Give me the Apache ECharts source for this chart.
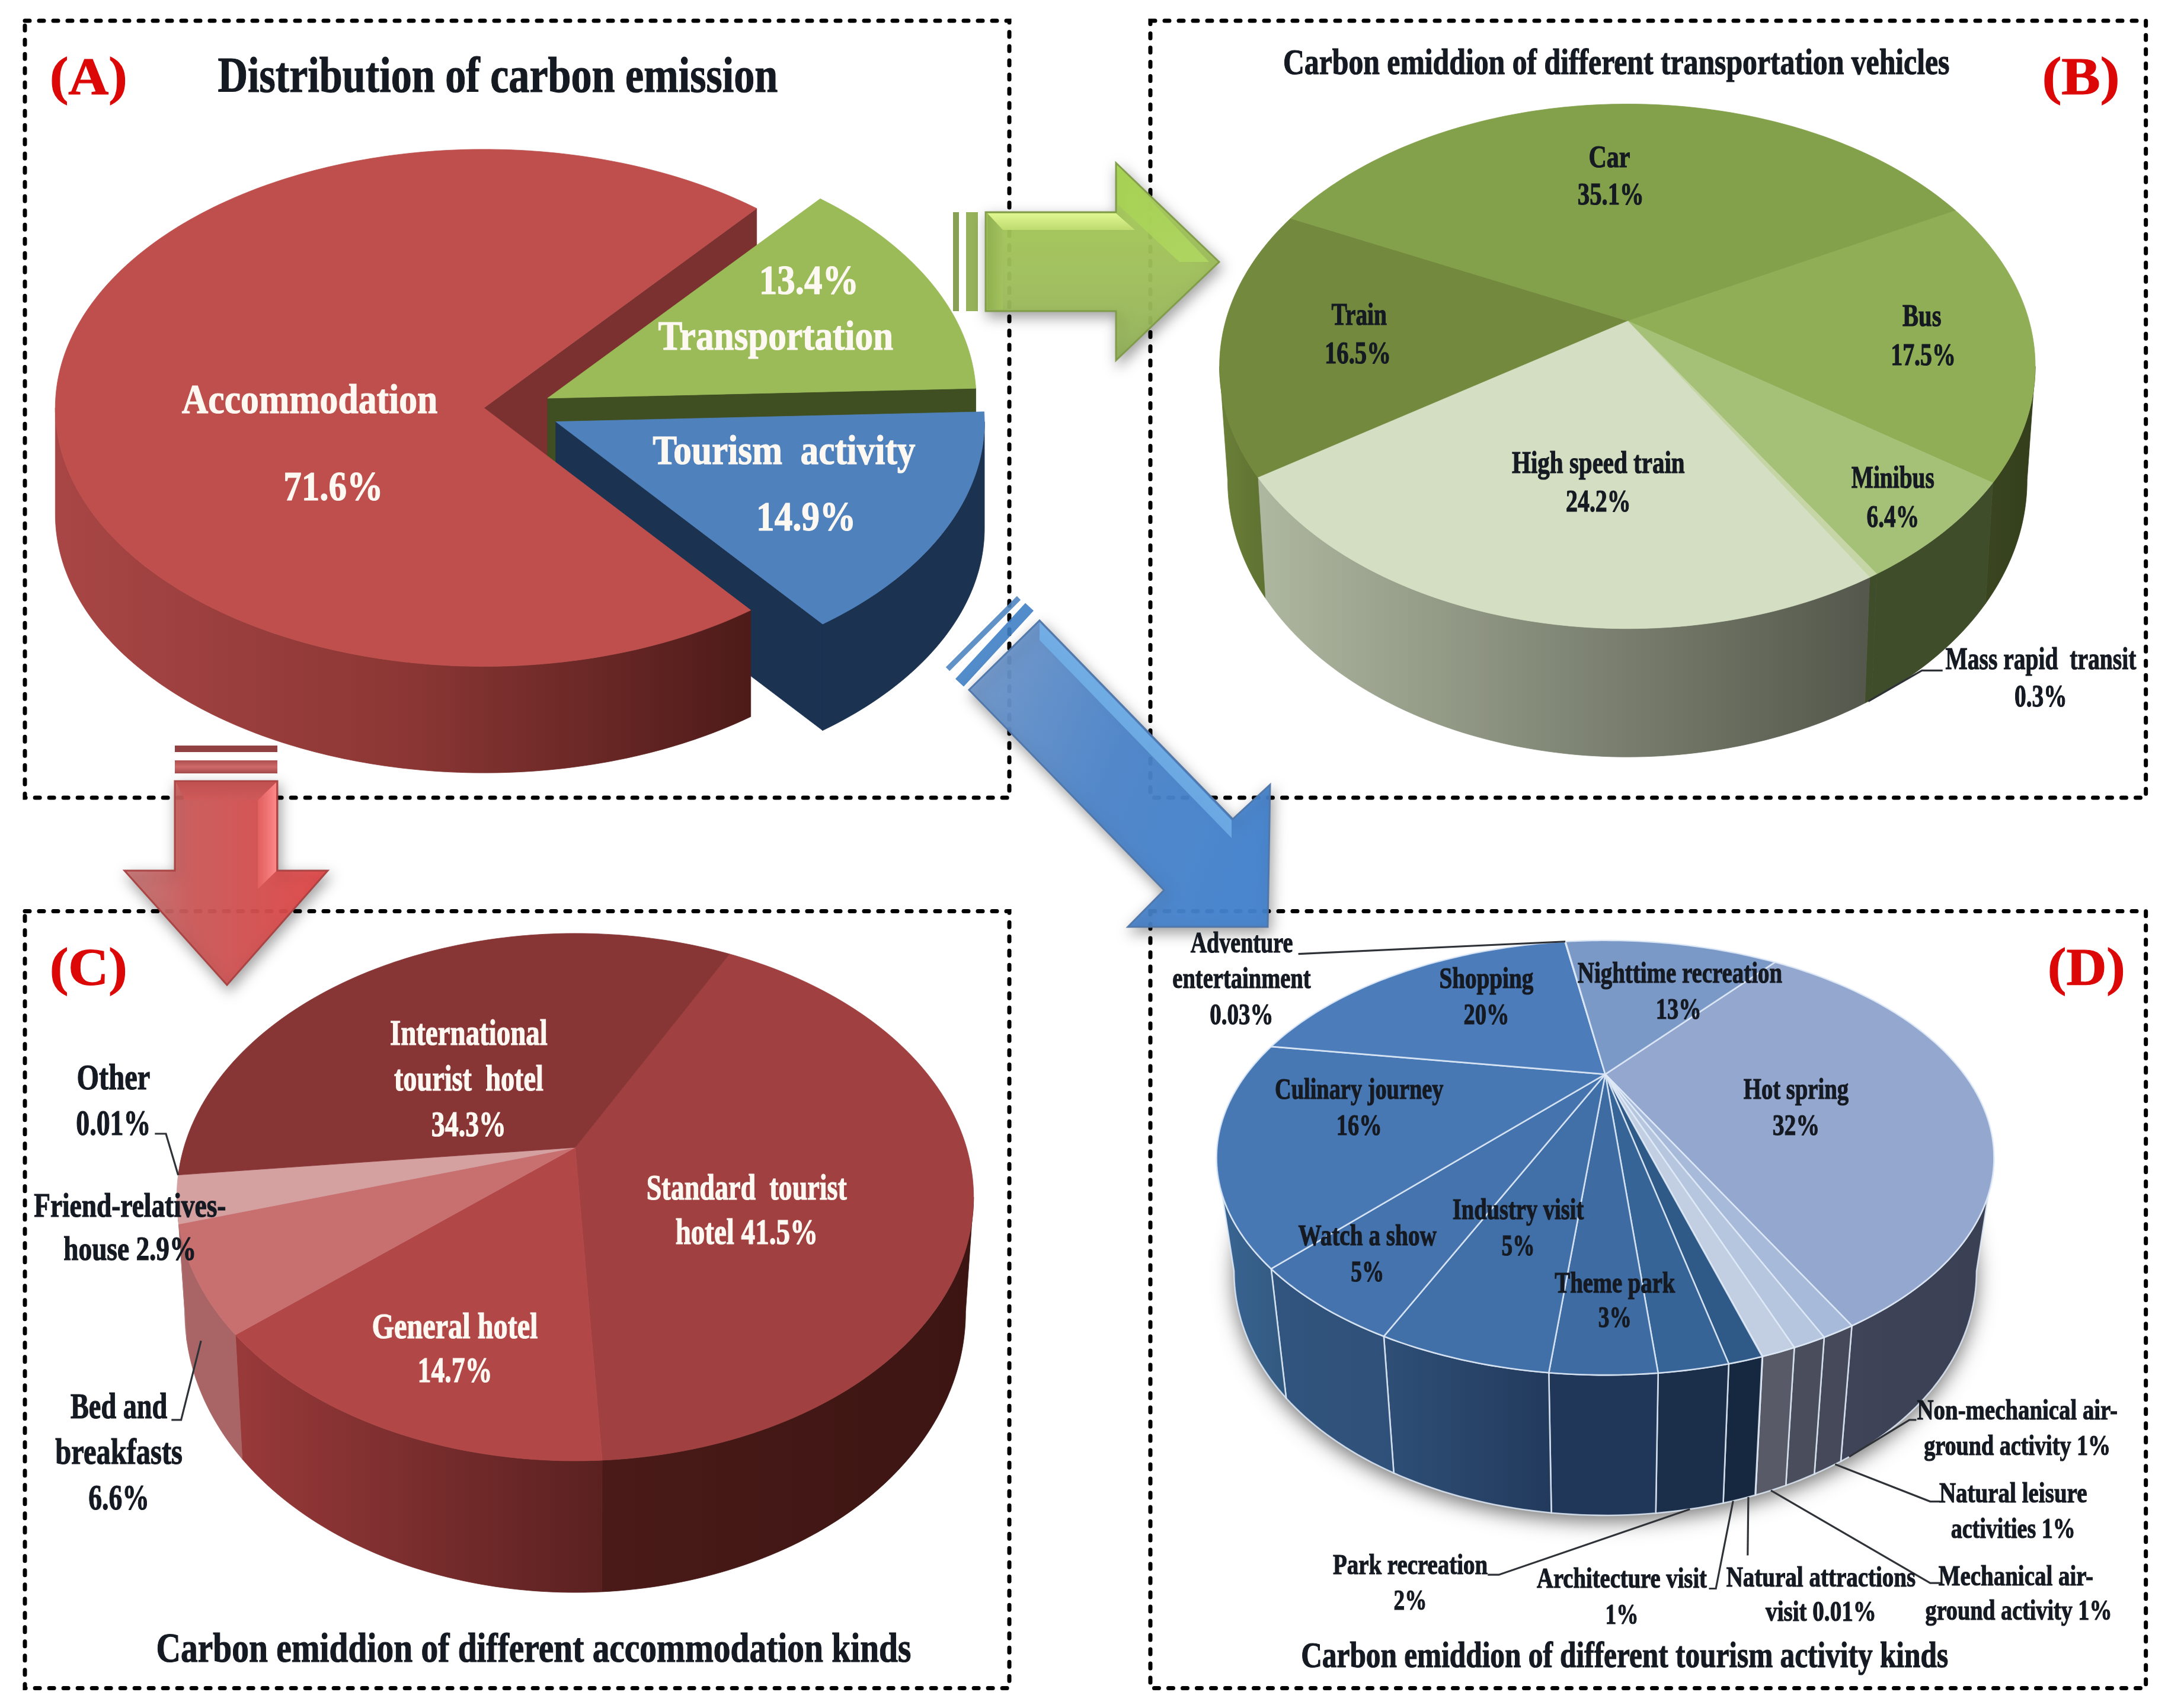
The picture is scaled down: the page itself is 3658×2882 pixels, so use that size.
<!DOCTYPE html>
<html><head><meta charset="utf-8">
<style>html,body{margin:0;padding:0;background:#fff}#c{width:3658px;height:2882px}</style>
<script src="https://cdn.jsdelivr.net/npm/echarts@6/dist/echarts.min.js"></script>
</head><body><div id="c"></div>
<script>
// ---------- data ----------
const categoriesA = ['Accommodation','Transportation','Tourism activity'];
const valuesA = [71.6,13.4,14.9];
const categoriesB = ['Bus','Minibus','Mass rapid transit','High speed train','Train','Car'];
const valuesB = [17.5,6.4,0.3,24.2,16.5,35.1];
const categoriesC = ['Standard tourist hotel','General hotel','Bed and breakfasts','Friend-relatives-house','Other','International tourist hotel'];
const valuesC = [41.5,14.7,6.6,2.9,0.01,34.3];
const categoriesD = ['Hot spring','Non-mechanical air-ground activity','Natural leisure activities','Mechanical air-ground activity','Natural attractions visit','Architecture visit','Park recreation','Theme park','Industry visit','Watch a show','Culinary journey','Shopping','Adventure entertainment','Nighttime recreation'];
const valuesD = [32,1,1,1,0.01,1,2,3,5,5,16,20,0.03,13];

// ---------- layout (units of the 1568-wide view, scaled by k) ----------
const k = 3658/1568;
const FONT = '"Liberation Serif"';
const DARK = '#151a22', WHITE = '#fdf8f2', RED = '#dc0808';

const pieA = {values:valuesA, names:categoriesA, cx:350, ay:295, R:310, Ry:187, p:0, d:77, q:0, s:1, start:51.5,
  offsets:[[0,0],[46,-7],[52,10]],
  tops:['#BE4F4D','#9BBB59','#4F81BD'],
  walls:[['#A84645','#8C3735','#4D1B19'],['#3F4F22'],['#1B3250']],
  cuts:['#7A3130','#3F4F22','#1B3250'],
  // [slice, face]: 0 top, 1 rim wall, 2 cut wall at slice end
  faces:[[0,2],[1,2],[1,0],[2,2],[2,1],[0,1],[0,0],[2,0]]};
const pieB = {values:valuesB, names:categoriesB, cx:1177, ay:232, R:290.5, Ry:184, p:0.1737, d:80, q:0.16, s:0.98, start:-28,
  tops:['#8FAE55','#A5C077','#C5D5A5','#D3DEC2','#72893E','#83A04A'],
  walls:[['#3A4620','#333D1B'],['#404D2B'],['#404D2B'],['#AEB7A0','#54574B'],['#6B8038','#5F7232'],['#5F7232']]};
const pieC = {values:valuesC, names:categoriesC, cx:416, ay:830, R:283, Ry:184, p:0.188, d:80, q:0.19, s:0.98, start:-62.6,
  tops:['#A04040','#B24747','#C87070','#D4A0A0','#D4A0A0','#883535'],
  walls:[['#4A1A18','#3C1512'],['#99393A','#5A2120'],['#A96565'],['#B07878'],['#B07878'],['#7A2E2E']]};
const pieD = {values:valuesD, names:categoriesD, cx:1161, ay:777, R:259.6, Ry:134, p:0.384, d:70, q:0.45, s:0.955, start:-52,
  tops:['#93A7CF','#A8BADA','#B6C6DF','#C2CFE3','#C2CFE3','#2F5A88','#366496','#3E6BA1','#4170A8','#4473AD','#4878B3','#4C7CB9','#4C7CB9','#7B99C7'],
  walls:[['#3F4459','#3A4054'],['#464959'],['#4A4D5B'],['#585B67'],['#585B67'],['#16283F'],['#1B2F4A'],['#20375A'],['#2F4F77','#223A5C'],['#31557F','#2F5078'],['#3A6594','#32597F'],['#3A6594'],['#3A6594'],['#5A7AA8']],
  stroke:'rgba(225,235,248,0.85)', base:'#1B2F4A'};
[pieB,pieC,pieD].forEach(pie=>{
  const walls=pie.values.map((_,i)=>[i,1]), tops=pie.values.map((_,i)=>[i,0]);
  pie.faces=(pie.base?[[0,4]]:[]).concat(walls,tops);
});

const boxes = [[18,15,712,562],[832,15,720,562],[18,659,712,562],[832,659,720,562]];

// text rows: string, centre x, centre y, target width, font size, colour
const textRows = [
 ['(A)',64,58,56,38,RED],['(B)',1505,58,56,38,RED],['(C)',64,702,56,38,RED],['(D)',1509,702,56,38,RED],
 ['Distribution of carbon emission',360,57,405,36,DARK],
 ['Carbon emiddion of different transportation vehicles',1169,47,482,26,DARK],
 ['Carbon emiddion of different accommodation kinds',386,1194,546,30,DARK],
 ['Carbon emiddion of different tourism activity kinds',1175,1199,468,26,DARK],
 ['13.4%',585,205,72,30,WHITE],['Transportation',561,245,170,30,WHITE],
 ['Accommodation',224,291,185,30,WHITE],['71.6%',241,354,72,30,WHITE],
 ['Tourism  activity',567,328,190,30,WHITE],['14.9%',583,376,72,30,WHITE],
 ['Car',1164,115,30,23,DARK],['35.1%',1165,142,48,23,DARK],
 ['Train',983,229,40,23,DARK],['16.5%',982,257,48,23,DARK],
 ['Bus',1390,230,28,23,DARK],['17.5%',1391,258,47,23,DARK],
 ['High speed train',1156,336,125,23,DARK],['24.2%',1156,364,47,23,DARK],
 ['Minibus',1369,347,60,23,DARK],['6.4%',1369,375,38,23,DARK],
 ['Mass rapid  transit',1476,478,138,23,DARK],['0.3%',1476,505,38,23,DARK],
 ['International',339,749,114,26,WHITE],['tourist  hotel',339,782,108,26,WHITE],['34.3%',339,815,54,26,WHITE],
 ['Standard  tourist',540,861,145,26,WHITE],['hotel 41.5%',540,893,103,26,WHITE],
 ['General hotel',329,961,120,26,WHITE],['14.7%',329,993,54,26,WHITE],
 ['Other',82,781,53,26,DARK],['0.01%',82,814,54,26,DARK],
 ['Friend-relatives-',94,874,139,24,DARK],['house 2.9%',94,905,96,24,DARK],
 ['Bed and',86,1019,70,26,DARK],['breakfasts',86,1052,92,26,DARK],['6.6%',86,1085,44,26,DARK],
 ['Adventure',898,683,74,22,DARK],['entertainment',898,709,100,22,DARK],['0.03%',898,735,46,22,DARK],
 ['Shopping',1075,709,68,22,DARK],['20%',1075,735,33,22,DARK],
 ['Nighttime recreation',1215,705,148,22,DARK],['13%',1214,731,33,22,DARK],
 ['Hot spring',1299,789,76,22,DARK],['32%',1299,815,34,22,DARK],
 ['Culinary journey',983,789,122,22,DARK],['16%',983,815,33,22,DARK],
 ['Watch a show',989,895,100,22,DARK],['5%',989,921,24,22,DARK],
 ['Industry visit',1098,876,95,22,DARK],['5%',1098,902,24,22,DARK],
 ['Theme park',1168,929,87,22,DARK],['3%',1168,954,24,22,DARK],
 ['Non-mechanical air-',1459,1021,145,21,DARK],['ground activity 1%',1459,1047,135,21,DARK],
 ['Natural leisure',1456,1081,107,21,DARK],['activities 1%',1456,1107,90,21,DARK],
 ['Mechanical air-',1458,1141,112,21,DARK],['ground activity 1%',1460,1166,135,21,DARK],
 ['Natural attractions',1317,1142,137,21,DARK],['visit 0.01%',1317,1167,80,21,DARK],
 ['Architecture visit',1173,1143,123,21,DARK],['1%',1173,1169,24,21,DARK],
 ['Park recreation',1020,1133,112,21,DARK],['2%',1020,1159,24,21,DARK]
];

// leaders: pie, slice index, rim ('top'|'bottom'|'mid'), elbow points, angle nudge
const leaders = [
 [pieB,2,'bottom',[[1390,485],[1405,485]],0],
 [pieC,4,'top',[[120,820],[112,820]],0],
 [pieC,2,'mid',[[131,1027],[124,1027]],0],
 [pieD,12,'top',[[939,690]],0],
 [pieD,1,'bottom',[[1381,1027],[1386,1027]],-3],
 [pieD,2,'bottom',[[1396,1086],[1403,1086]],-4.6],
 [pieD,3,'bottom',[[1396,1145],[1404,1145]],0],
 [pieD,4,'bottom',[[1264,1125]],0.8],
 [pieD,5,'bottom',[[1241,1149],[1236,1149]],0.7],
 [pieD,6,'bottom',[[1084,1139],[1076,1139]],0]
];

// ---------- geometry ----------
function angles(pie){
  const total=pie.values.reduce((a,b)=>a+b,0); let a=pie.start;
  return pie.values.map(v=>{const a0=a; a+=v/total*360; return [a0,a];});
}
function apex(pie,i){const o=pie.offsets?pie.offsets[i]:[0,0];return [pie.cx+o[0],pie.ay+o[1]];}
function rim(pie,i,deg,bottom){
  const t=deg*Math.PI/180,u=Math.cos(t),v=Math.sin(t),w=1-pie.p*v,c=apex(pie,i);
  let X=pie.R*u/w,Y=pie.Ry*v/w;
  if(bottom){X*=pie.s;Y+=pie.d*(1+pie.q*v);}
  return [(c[0]+X)*k,(c[1]+Y)*k];
}
function arc(pie,i,a0,a1,bottom){
  const n=Math.max(2,Math.ceil(Math.abs(a1-a0))+1),pts=[];
  for(let j=0;j<n;j++)pts.push(rim(pie,i,a0+(a1-a0)*j/(n-1),bottom));
  return pts;
}
function fillOf(c){
  if(c.length===1)return c[0];
  return new echarts.graphic.LinearGradient(0,0,1,0,c.map((col,j)=>({offset:j/(c.length-1),color:col})));
}
function facePolygon(pie,i,face){
  const ang=angles(pie)[i],c=apex(pie,i);
  const ax=[c[0]*k,c[1]*k],bx=[c[0]*k,(c[1]+pie.d)*k];
  if(face===0)return {pts:[ax].concat(arc(pie,i,ang[0],ang[1],false)),fill:pie.tops[i]};
  if(face===2){
    const a=ang[1];
    return {pts:[ax,rim(pie,i,a,false),rim(pie,i,a,true),bx],fill:pie.cuts[i]};
  }
  if(face===4){ // soft ground shadow under the whole pie
    return {pts:arc(pie,i,0,360,true),fill:pie.base,shadow:true};
  }
  const vis=Math.asin(pie.p)*180/Math.PI;
  for(const m of [-360,0,360]){
    const lo=Math.max(ang[0],vis+m),hi=Math.min(ang[1],180-vis+m);
    if(hi>lo)return {pts:arc(pie,i,lo,hi,false).concat(arc(pie,i,hi,lo,true)),fill:fillOf(pie.walls[i])};
  }
  return null;
}
function pieSeries(pie,z){
  return {type:'custom',coordinateSystem:'none',z:z,silent:true,animation:false,clip:false,
    data:pie.faces,
    renderItem:function(params){
      const f=pie.faces[params.dataIndex],g=facePolygon(pie,f[0],f[1]);
      if(!g)return {type:'group',children:[]};
      const style={fill:g.fill};
      if(g.shadow){style.shadowBlur=34;style.shadowColor='rgba(0,0,0,0.55)';style.shadowOffsetY=10;}
      if(pie.stroke&&!g.shadow){style.stroke=pie.stroke;style.lineWidth=2.6;style.lineJoin='round';}
      else if(!g.shadow){style.stroke=g.fill;style.lineWidth=0.8;}
      return {type:'polygon',shape:{points:g.pts},style:style};
    }};
}
function layer(z,elements){
  return {type:'custom',coordinateSystem:'none',z:z,silent:true,animation:false,clip:false,data:[[0]],
    renderItem:function(){return {type:'group',children:elements()};}};
}
function grad(x0,y0,x1,y1,stops){
  return new echarts.graphic.LinearGradient(x0,y0,x1,y1,stops.map((c,j)=>({offset:j/(stops.length-1),color:c})));
}
const shadowStyle={shadowBlur:22,shadowColor:'rgba(0,0,0,0.38)',shadowOffsetX:4,shadowOffsetY:9};
function poly(pts,fill,extra){return {type:'polygon',shape:{points:pts},style:Object.assign({fill:fill},extra||{})};}

function arrowElements(){
  const op={opacity:0.94};
  return [
   // green
   poly([[1608,358],[1618,358],[1618,525],[1608,525]],'#7F9A4A',op),
   poly([[1630,358],[1650,358],[1650,525],[1630,525]],'#8FAD50',op),
   poly([[1663,358],[1883,358],[1883,275],[2057,442],[1883,608],[1883,525],[1663,525]],grad(0,0,0,1,['#B2DC58','#A5C85A','#A0C05C','#94B45A']),Object.assign({stroke:'#7D9A45',lineWidth:3},shadowStyle,op)),
   poly([[1666,360],[1883,360],[1915,388],[1692,388]],grad(0,0,0,1,['#E4FA94','#BFDC70']),{opacity:0.95}),
   poly([[1666,360],[1692,388],[1692,522],[1666,522]],grad(0,0,1,0,['#8FB04E','#A3C25F']),op),
   poly([[1886,280],[2040,442],[1990,442],[1886,345]],grad(0,0,1,1,['#A4D250','#B2DA62']),{opacity:0.8}),
   // blue
   {type:'polyline',shape:{points:[[1599,1129],[1719,1009]]},style:{stroke:'#4F86C2',lineWidth:9,fill:null,opacity:0.9}},
   {type:'polyline',shape:{points:[[1619,1152],[1737,1024]]},style:{stroke:'#3F7FC4',lineWidth:19,fill:null,opacity:0.9}},
   poly([[1635,1164],[1754,1047],[2080,1382],[2143,1324],[2139,1564],[1903,1564],[1964,1502]],grad(0,0.2,1,0.6,['#7098CC','#4D86CC','#4484D0']),Object.assign({stroke:'#4F75A8',lineWidth:3},shadowStyle,op)),
   poly([[1754,1050],[2078,1384],[2078,1414],[1754,1080]],grad(1,0,0,1,['#8FCDF8','#5290D6']),{opacity:0.9}),
   // red
   poly([[295,1258],[468,1258],[468,1269],[295,1269]],'#8A3535',op),
   poly([[295,1283],[468,1283],[468,1305],[295,1305]],grad(0,0,0,1,['#A94444','#CC6060','#9F3E3E']),op),
   poly([[295,1318],[468,1318],[468,1469],[553,1469],[383,1662],[210,1469],[295,1469]],grad(0,0,1,0,['#C87878','#CE5A5A','#D85050','#E84848']),Object.assign({stroke:'#A84040',lineWidth:3},shadowStyle,op)),
   poly([[435,1350],[466,1320],[466,1470],[435,1500]],grad(0,0,1,0,['#E25F5F','#FF8A8A']),{opacity:0.95}),
   poly([[297,1320],[466,1320],[435,1350],[312,1350]],grad(0,0,0,1,['#C05050','#D05A5A']),op)
  ];
}
function boxElements(){
  return boxes.map(b=>({type:'rect',shape:{x:b[0]*k,y:b[1]*k,width:b[2]*k,height:b[3]*k},
    style:{fill:null,stroke:'#000',lineWidth:7,lineDash:[8,16],lineCap:'round'}}));
}
function leaderElements(){
  return leaders.map(l=>{
    const pie=l[0],i=l[1],ang=angles(pie)[i],mid=(ang[0]+ang[1])/2+l[4];
    let first;
    if(l[2]==='mid'){const a=rim(pie,i,mid,false),b=rim(pie,i,mid,true);first=[(a[0]+b[0])/2,(a[1]+b[1])/2];}
    else first=rim(pie,i,mid,l[2]==='bottom');
    return {type:'polyline',shape:{points:[first].concat(l[3].map(p=>[p[0]*k,p[1]*k]))},style:{fill:null,stroke:'#2f3338',lineWidth:3.2}};
  });
}
const measureCtx=document.createElement('canvas').getContext('2d');
function textElements(){
  return textRows.map(r=>{
    const size=r[4]*k,font='bold '+size.toFixed(1)+'px '+FONT;
    measureCtx.font=font;
    const sx=r[3]*k/measureCtx.measureText(r[0]).width;
    const st={text:r[0],x:0,y:0,fill:r[5],font:font,textAlign:'center',textVerticalAlign:'middle',stroke:r[5],lineWidth:1.2};
    if(r[5]===WHITE){st.shadowBlur=5;st.shadowColor='rgba(60,20,20,0.6)';}
    return {type:'text',x:r[1]*k,y:r[2]*k,scaleX:sx,style:st};
  });
}

const chart=echarts.init(document.getElementById('c'),null,{renderer:'canvas',width:3658,height:2882});
chart.setOption({
  backgroundColor:'#ffffff',animation:false,
  series:[
    layer(1,boxElements),
    pieSeries(pieA,2),pieSeries(pieB,2),pieSeries(pieC,2),pieSeries(pieD,2),
    layer(3,arrowElements),
    layer(4,leaderElements),
    layer(5,textElements)
  ]
});
</script></body></html>
